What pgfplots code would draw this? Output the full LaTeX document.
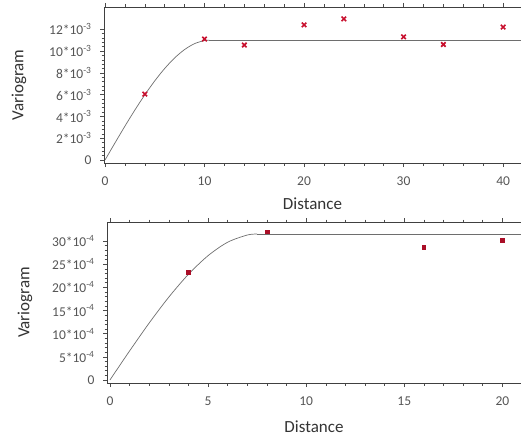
\documentclass[border=0pt]{standalone}
\usepackage{fontspec}
\setmainfont{Carlito}
\usepackage{pgfplots}
\pgfplotsset{compat=1.18}
\definecolor{tickgray}{HTML}{555555}
\definecolor{markred}{HTML}{C8102E}
\definecolor{curvegray}{HTML}{6E6E6E}
\begin{document}
\begin{tikzpicture}
\useasboundingbox (0pt,0pt) rectangle (521pt,437pt);
\pgfplotsset{
  vario/.style={
    scale only axis,
    anchor=south west,
    axis x line*=box,
    axis y line*=left,
    axis line style={black!75, line width=0.9pt},
    tick align=outside,
    tick style={black!70, line width=0.5pt},
    major tick length=4pt,
    minor tick length=2.5pt,
    minor x tick num=4,
    minor y tick num=4,
    /pgf/number format/assume math mode=true,
    tick label style={font=\fontsize{13.5}{15}\selectfont, text=tickgray},
    yticklabel style={xshift=-5pt},
    xticklabel style={yshift=-6pt},
    label style={font=\fontsize{17}{20}\selectfont, text=black!80},
    xlabel={Distance},
    ylabel={Variogram},
    clip=false,
  }
}
% ---------- top panel ----------
\begin{axis}[vario,
  at={(104pt,274pt)}, width=417pt, height=156pt,
  xmin=-0.1, xmax=41.8, ymin=-0.27, ymax=14.04,
  xtick={0,10,20,30,40},
  xticklabels={0,10,20,30,40},
  ytick={0,2,4,6,8,10,12},
  yticklabels={0,{2*10\textsuperscript{-3}},{4*10\textsuperscript{-3}},{6*10\textsuperscript{-3}},{8*10\textsuperscript{-3}},{10*10\textsuperscript{-3}},{12*10\textsuperscript{-3}}},
  xlabel style={at={(axis description cs:0.5,-0.2628)}, anchor=center},
  ylabel style={at={(axis description cs:-0.2038,0.5)}, anchor=center},
]
\addplot[curvegray, line width=0.7pt, smooth] coordinates {
 (0,0) (0.5,0.785) (1,1.567) (2,3.105) (3,4.586) (4,5.982) (5,7.263)
 (6,8.402) (7,9.370) (8,10.139) (9,10.679) (10,10.963) (10.5,11.0)};
\addplot[curvegray, line width=0.7pt] coordinates {(10.5,11.0) (41.8,11.0)};
\addplot[only marks, mark=x, mark size=3.2pt, markred, line width=1.6pt] coordinates {
 (4,6.05) (10,11.1) (14,10.55) (20,12.4) (24,12.95) (30,11.3) (34,10.6) (40,12.2)};
\end{axis}
% ---------- bottom panel ----------
\begin{axis}[vario,
  at={(107pt,54pt)}, width=414pt, height=161pt,
  xmin=-0.15, xmax=20.95, ymin=-0.65, ymax=34.1,
  xtick={0,5,10,15,20},
  xticklabels={0,5,10,15,20},
  ytick={0,5,10,15,20,25,30},
  yticklabels={0,{5*10\textsuperscript{-4}},{10*10\textsuperscript{-4}},{15*10\textsuperscript{-4}},{20*10\textsuperscript{-4}},{25*10\textsuperscript{-4}},{30*10\textsuperscript{-4}}},
  xlabel style={at={(axis description cs:0.5,-0.2733)}, anchor=center},
  ylabel style={at={(axis description cs:-0.198,0.5)}, anchor=center},
]
\addplot[curvegray, line width=0.7pt, smooth] coordinates {
 (0,0) (0.5,3.145) (1,6.263) (2,12.30) (3,17.89) (4,22.81) (5,26.83)
 (6,29.74) (7,31.29) (7.5,31.5)};
\addplot[curvegray, line width=0.7pt] coordinates {(7.5,31.5) (20.95,31.5)};
\addplot[only marks, mark=square*, mark size=1.8pt, markred!85!black, draw=markred!85!black] coordinates {
 (4,23.3) (8,32.0) (16,28.7) (20,30.2)};
\end{axis}
\end{tikzpicture}
\end{document}
